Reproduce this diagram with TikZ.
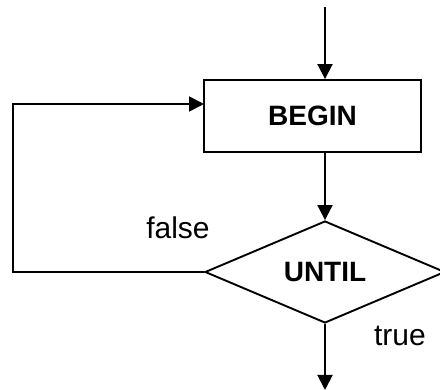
\documentclass[tikz,border=0pt]{standalone}
\usepackage{fontspec}
\setmainfont{Liberation Sans}
\usetikzlibrary{arrows.meta,shapes.geometric}
\begin{document}
\begin{tikzpicture}[x=1pt,y=-1pt,
  line width=1.9pt,
  arr/.style={-{Triangle[length=15pt,width=15pt]}},
  boxst/.style={draw,rectangle,minimum width=217pt,minimum height=72pt,inner sep=0pt,font=\fontsize{28}{30}\selectfont\bfseries},
  dia/.style={draw,diamond,minimum width=240pt,minimum height=95pt,inner sep=0pt,font=\fontsize{28}{30}\selectfont\bfseries},
  lbl/.style={font=\fontsize{30}{32}\selectfont,inner sep=0pt}]
\useasboundingbox (0,0) rectangle (440,390);
\node[boxst] (begin) at (312.5,116) {BEGIN};
\node[dia] (until) at (325,272) {UNTIL};
\coordinate (start) at (325,7);
\coordinate (endp) at (325,390);
\coordinate (loopin) at (204,104);
\coordinate (lcorner) at (13,272);
\draw[arr] (start) -- (start |- begin.north);
\draw[arr] (begin.south -| until.north) -- (until.north);
\draw[arr] (until.south) -- (endp);
\draw[arr] (until.west) -- (lcorner) |- (loopin);
\node[lbl] (false) at (178,228) {false};
\node[lbl] (true) at (400,336) {true};
\end{tikzpicture}
\end{document}
